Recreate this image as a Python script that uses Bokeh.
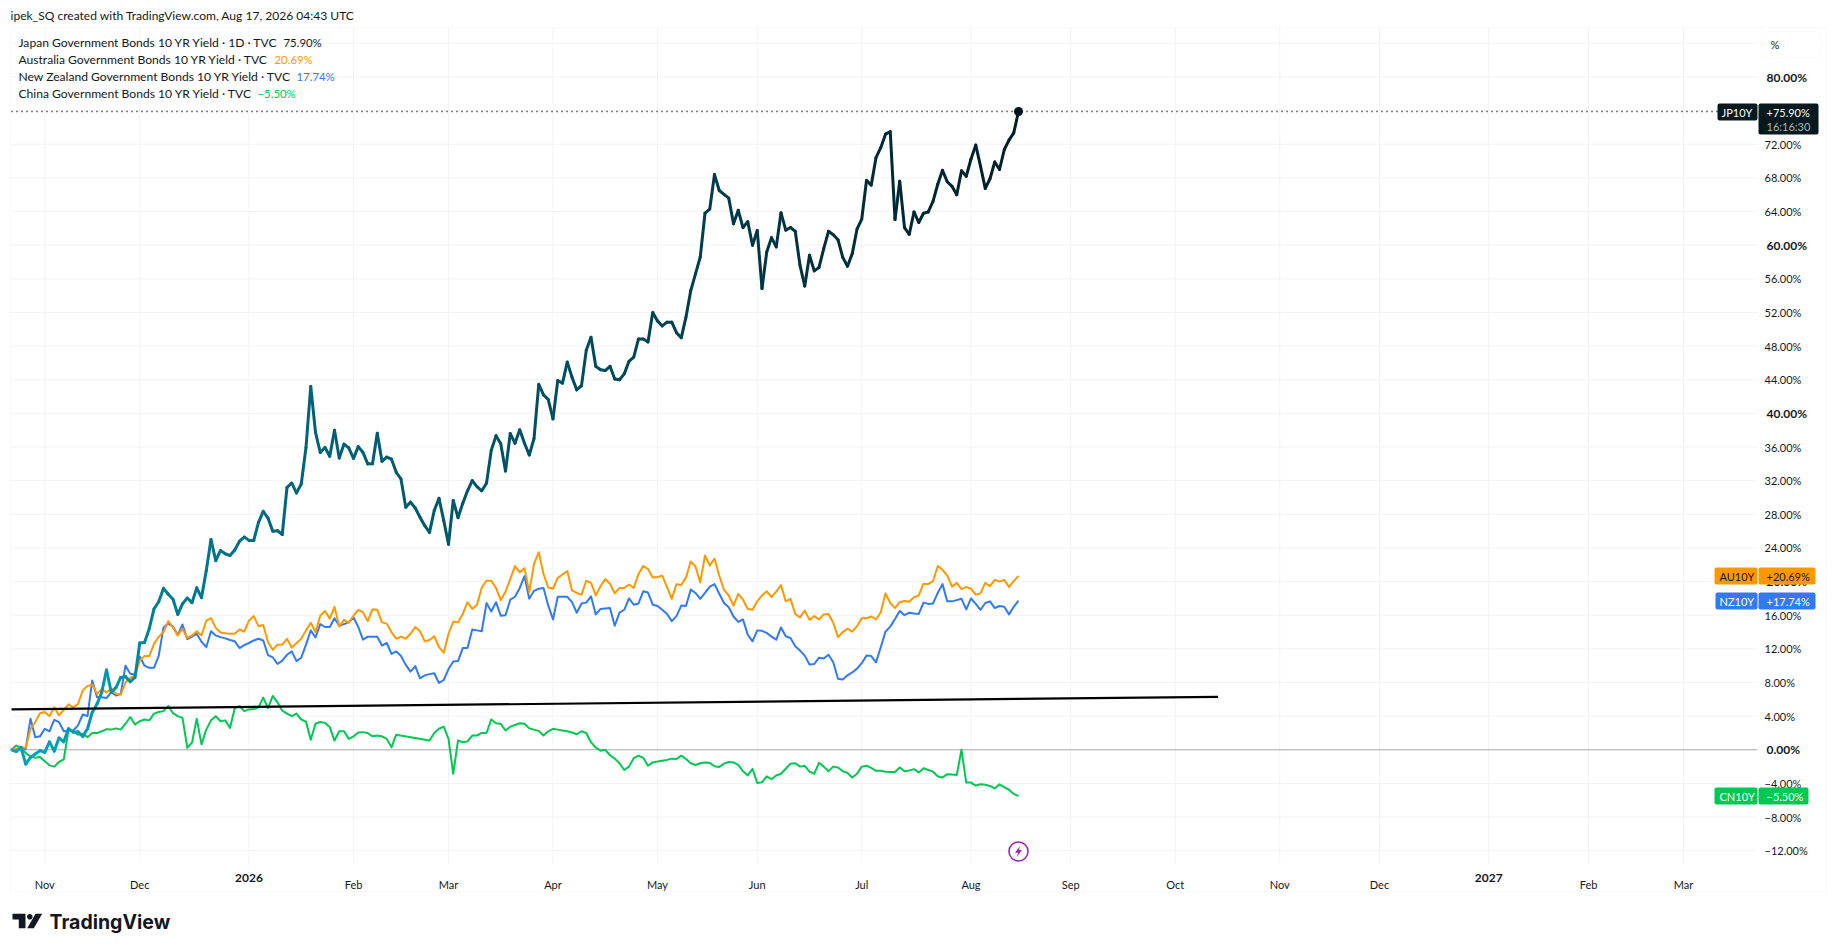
from bokeh.embed import file_html
from bokeh.resources import INLINE
from bokeh.plotting import figure
from bokeh.models import (Range1d, FixedTicker, Label, BoxAnnotation, PolyAnnotation)
import numpy as np

TITLE = "ipek_SQ created with TradingView.com, Aug 17, 2026 04:43 UTC"
JP = [0,-0.2,0.25,-1.7,-0.9,-0.5,-0.1,-0.3,0.95,-0.15,
1.4,0.95,2.5,2.1,2.15,1.6,2.5,4.45,5.45,6.85,
9.5,6.85,7.4,8.6,8.7,8.1,8.6,12.7,12.75,14.4,
16.75,17.6,19.2,18.5,17.9,16.1,17.35,18.05,17.5,19.25,
18.1,21.3,25.0,22.5,23.7,23.3,23.1,23.75,24.8,25.3,
24.9,24.9,27.05,28.35,27.55,26.0,26.05,25.6,31.2,31.7,
30.55,31.6,35.95,43.2,37.75,35.35,35.95,34.9,38.0,34.7,
36.35,35.9,34.65,36.05,35.35,34.0,34.0,37.65,34.3,34.8,
34.55,33,32.2,28.85,29.45,28.75,27.65,26.65,25.85,28.45,
29.9,27.25,24.45,29.65,27.6,29.3,30.8,32,31.3,30.8,
31.7,35.6,37.35,36.4,33.15,37.6,36.45,38.05,36.45,35.05,
37,43.45,42.2,41.65,39.35,43.9,43.6,46.1,44.3,42.8,
43.3,47.5,49.05,45.6,45.2,45.1,45.6,44.1,44,44.7,
46.2,46.7,48.85,48.85,48.5,52,51,50.4,50.85,50.85,
49.6,49,51.45,54.6,56.6,58.6,63.8,64.3,68.4,66.5,
66.05,65.6,62.55,64.15,62.1,62.8,60,61.75,54.85,59.2,
60.9,59.8,63.85,61.8,62.1,61.65,57.6,55.15,58.8,56.95,
57.35,59.6,61.65,61.25,60.65,58.55,57.5,59,61.9,63.1,
67.7,67.15,70.4,71.6,73.2,73.5,63.05,67.6,62.1,61.3,
63.95,62.7,63.8,63.95,65.2,67.25,68.9,67.55,67,66,
68.85,68.2,70.25,71.9,69.4,66.75,67.9,69.9,69,71.35,
72.5,73.35,75.9]
AU = [0,0.1,0.3,0.25,2.5,3.3,4.35,4.5,4,5.05,
4.1,4.75,5.4,5.05,5.45,7.05,7.6,7.75,6.65,7.25,
6.8,7.3,6.65,6.55,8,8.55,8.85,10.6,11.15,11.15,
12.6,13.45,14,15.3,14.55,13.6,14.4,13.3,13.6,14.1,
13.6,15.35,15.65,14.5,13.95,13.85,13.8,13.8,14.3,14.05,
15.35,15.9,14.7,14.85,12.8,11.9,12.5,12.5,13.2,12.15,
12.7,13.2,14.2,15.1,14,15.95,16.5,15.6,17,14.65,
15.45,15.1,15.95,16.65,16.35,15.3,16.7,16.65,15.15,15,
14,13.2,13.45,13.2,13.8,14.6,14.1,12.9,13.05,13.5,
12.2,11.55,13.8,15.25,15.15,16.15,17.55,16.75,17.25,19.3,
20.1,20.1,19.25,17.8,18.8,20.3,21.85,21.1,21.6,18.75,
22.1,23.5,20.9,19.3,19.15,20.45,20.85,21.25,18.95,18.65,
18.45,20.1,19.85,18.35,19.45,20.3,19.75,18.6,19.25,19.25,
19.65,19.25,20.9,21.85,21.5,20.5,20.55,20.7,19.35,17.95,
19.7,19.6,20.5,22.4,21.8,19.9,23.1,21.9,22.75,20.7,
19,18.35,17.15,18.55,17.85,16.75,16.65,17.65,18.35,18.85,
18.15,18.8,19.6,17.65,17.95,16.15,15.75,16.55,15.45,15.9,
15.5,16.1,16.15,15.1,13.4,14,14.4,14.05,14.7,15.65,
15.65,15.85,15.5,16.35,18.6,17.45,16.85,17.55,17.7,17.6,
18.15,18.35,19.75,19.7,20.05,21.85,21.4,20.7,19.4,19.85,
19.1,19.35,19.15,18.45,18.6,19.85,19.45,20.2,20,20.2,
19.35,20.05,20.69]
NZ = [0,-0.2,0.3,0.1,3.7,1.5,1.6,2.5,2.2,3.55,
3.3,2.2,2.3,2.3,2.9,4.2,4,8.25,6.25,6.25,
6.15,6.85,6.45,6.65,10,9.05,8.95,11.1,10,9.75,
9.75,11.2,14.55,15,14.65,13.65,14.9,13.15,13.45,13.8,
12.85,12.2,14.1,13.6,13.4,13.25,13.05,12.9,12.1,12.45,
12.7,13,13.2,13,11.25,11,10.2,10.6,11.3,11.7,
10.55,10.95,12.5,14.2,13.35,14.95,14.6,14.6,15.65,14.75,
14.95,15.15,15.75,14.6,13.1,13.45,13.45,13.45,12.4,12.7,
11.4,11.7,11.15,10.1,9.3,9.95,8.5,8.85,9,9.1,
7.95,8.3,9.6,10.5,10.55,12.1,12.1,14.3,14.2,14.1,
17.45,16.45,17.55,15.95,16,17.85,18.2,19.25,20.65,17.95,
18.9,19.15,19.25,17.15,15.5,18.2,18.2,18.2,17.55,16.3,
17.4,17.5,18.25,16.1,16.75,16.8,16.85,14.75,16.3,16.65,
18,17.25,17.4,18.85,18.7,17.25,17.1,16.65,16.15,15.3,
15.9,17.15,17.1,19.05,18.65,17.95,18.65,19.4,19.7,18.55,
17.45,16.95,15.85,15.2,15.5,13.7,12.9,14.2,14.15,13.9,
13.45,13.1,14.55,13.5,13.3,12.3,11.8,11.2,10.15,10.2,
10.95,10.85,11.3,10.4,8.45,8.35,8.85,9.2,9.65,10.3,
11.2,11.15,10.4,12.2,14.05,14.65,15.55,16.5,16,16.3,
16.2,16.15,17.5,17.35,17.4,18.65,19.7,17.65,17.65,17.8,
17.95,16.7,18,17.35,16.65,17.45,17.65,16.85,17.1,17,
16.1,17,17.74]
CN = [0,0.5,0.25,-0.4,-0.8,-0.95,-0.85,-1.35,-1.85,-2,
-1.45,-1.15,2.3,2.2,1.8,1.9,1.5,2,2,2.2,
2.45,2.4,2.55,2.4,3.1,3.9,3,3.4,3.6,3.5,
4.3,4.5,4.6,5.2,4.35,4,3.8,0.25,0.85,3.7,
0.65,2.4,3.5,4,3.4,3.5,2.6,4.95,5.2,4.6,
4.8,4.85,5.05,6.2,4.95,6.4,5.65,4.65,4.3,4,
4.3,3.6,3.35,1.2,3.1,3.3,3.2,2.7,1.1,2.2,
2.2,1.3,1.6,2.05,2.1,2,1.6,1.7,1.6,1.3,
0.3,1.8,None,None,None,None,None,None,1.1,2,
2.5,2.75,1.3,-2.85,1.1,0.9,1,1.7,1.7,2,
2,3.6,3.15,3.1,2.3,2.75,2.95,3.15,3.1,2.55,
2.4,2.25,1.7,2.2,2.5,2.4,2.3,2.2,2.05,1.85,
2.2,2,0.9,0.25,-0.1,0,-0.65,-1.05,-1.6,-2.4,
-2,-1,-0.7,-0.95,-1.9,-1.5,-1.4,-1.3,-1.2,-1.05,
-1.1,-0.7,-1.1,-1.6,-1.8,-1.6,-1.5,-1.55,-1.95,-2.05,
-1.65,-1.45,-1.5,-1.8,-2.55,-3.05,-2.25,-3.95,-3.85,-3.15,
-3.5,-3.05,-2.85,-2.25,-1.65,-1.6,-2,-1.9,-2.6,-2.85,
-1.55,-2,-2.55,-2,-2.1,-2.55,-2.75,-3.3,-2.85,-2,
-1.9,-2.15,-2.5,-2.5,-2.6,-2.65,-2.65,-2.1,-2.55,-2.45,
-2.3,-2.7,-2.2,-2.4,-2.6,-3.15,-3.3,-2.9,-2.95,-3,
0,-3.9,-3.9,-4.25,-4.1,-4.15,-4.3,-4.6,-4.1,-4.45,
-4.75,-5.25,-5.5]
TREND_X = [0, 254]
TREND_Y = [4.8, 6.3]
MONTH_BARS = [7,27,50,72,92,114,136,157,179,202,223,245,267,288,311,332,352]
MONTH_TEXT = ["Nov","Dec","2026","Feb","Mar","Apr","May","Jun","Jul","Aug","Sep","Oct","Nov","Dec","2027","Feb","Mar"]
PCT_TICKS = [84,80,76,72,68,64,60,56,52,48,44,40,36,32,28,24,20,16,12,8,4,0,-4,-8,-12]
LEGEND = [("Japan Government Bonds 10 YR Yield · 1D · TVC", "75.90%", "#131722", 283),
          ("Australia Government Bonds 10 YR Yield · TVC", "20.69%", "#FF9800", 274),
          ("New Zealand Government Bonds 10 YR Yield · TVC", "17.74%", "#3179F5", 296),
          ("China Government Bonds 10 YR Yield · TVC", "−5.50%", "#00C853", 257)]

FONT = "Lato"
INK = "#131722"
GRID = "#f2f3f5"
ORANGE, BLUE, GREEN = "#FF9800", "#3179F5", "#00C853"

# page pixel -> data helpers (chart pane spans page x 11..1757, y 27..863)
BAR_PX, PCT_PX = 4.75, 8.41
X = lambda px: (px - 11) / BAR_PX
Y = lambda py: (749.3 - py) / PCT_PX
CW, CH = 1827, 943

p = figure(width=CW, height=CH, output_backend="svg", toolbar_location=None,
           x_range=Range1d(X(0), X(CW)), y_range=Range1d(Y(CH), Y(0)),
           y_axis_location="right", min_border=0, outline_line_color=None,
           background_fill_color="white", border_fill_color="white")

BOLD_Y = {80, 60, 40, 20, 0}
def pct_text(v):
    return ("−" if v < 0 else "") + f"{abs(v):.2f}%"

ya = p.yaxis[0]
ya.ticker = FixedTicker(ticks=PCT_TICKS)
ya.major_label_overrides = {v: ("" if v in BOLD_Y or v in (84, 76) else pct_text(v)) for v in PCT_TICKS}
ya.fixed_location = X(1757)
xa = p.xaxis[0]
xa.ticker = FixedTicker(ticks=MONTH_BARS)
xa.major_label_overrides = {b: ("" if t.isdigit() else t) for b, t in zip(MONTH_BARS, MONTH_TEXT)}
xa.fixed_location = Y(863)
for a in (xa, ya):
    a.axis_line_color = None
    a.major_tick_line_color = None
    a.minor_tick_line_color = None
    a.major_label_text_font = FONT
    a.major_label_text_font_size = "11px"
    a.major_label_text_color = INK
ya.major_label_standoff = 1
xa.major_label_standoff = 8
p.xgrid.visible = False
p.ygrid.visible = False
# grid limited to the chart pane
p.segment(X(11), PCT_TICKS, X(1757), PCT_TICKS, line_color=GRID, line_width=1)
p.segment(MONTH_BARS, Y(27), MONTH_BARS, Y(863), line_color=GRID, line_width=1)

def label(text, px, py, color=INK, size=11, bold=False, align="left", font=FONT):
    p.add_layout(Label(x=X(px), y=Y(py), text=text, text_color=color, text_font=font,
                       text_font_size=f"{size}px", text_font_style="bold" if bold else "normal",
                       text_align=align, text_baseline="middle"))

def box(l, r, t, b, fill=None, line=None, width=1, radius=2):
    p.add_layout(BoxAnnotation(left=X(l), right=X(r), top=Y(t), bottom=Y(b),
                               fill_color=fill, fill_alpha=1 if fill else 0,
                               line_color=line, line_width=width, border_radius=radius,
                               level="annotation"))

def poly(pts, color):
    p.add_layout(PolyAnnotation(xs=[X(a) for a, _ in pts], ys=[Y(b) for _, b in pts],
                                fill_color=color, fill_alpha=1, line_color=None,
                                level="annotation", editable=False))

# outer border
box(10, 1826, 27, 891, line="#eff0f2", width=2, radius=0)

# zero line
p.segment(X(11), 0, X(1757), 0, line_color="#ababab", line_width=1)

bars = list(range(len(JP)))
cx = [b for b, v in zip(bars, CN) if v is not None]
cy = [v for v in CN if v is not None]
p.line(cx, cy, line_color=GREEN, line_width=2, line_join="round")
p.line(bars, NZ, line_color=BLUE, line_width=2, line_join="round")
p.line(bars, AU, line_color=ORANGE, line_width=2, line_join="round")

# JP line: colour fades along the series
stops_b = [0, 20, 30, 60, 120, 160, 212]
stops_c = [(0,163,191),(0,151,176),(0,127,151),(0,100,122),(0,77,92),(0,53,68),(0,31,40)]
seg_c = []
for i in bars[:-1]:
    rgb = [int(np.interp(i, stops_b, [c[k] for c in stops_c])) for k in range(3)]
    seg_c.append("#%02x%02x%02x" % tuple(rgb))
p.segment(bars[:-1], JP[:-1], bars[1:], JP[1:], line_color=seg_c, line_width=3, line_cap="round")
p.scatter([bars[-1]], [JP[-1]], size=9, marker="circle", fill_color="#04141a", line_color=None)

# last value dotted line, trend line
p.line([X(11), X(1717)], [JP[-1], JP[-1]], line_color="black", line_width=1.3, line_dash="1 4")
p.line(TREND_X, TREND_Y, line_color="black", line_width=2.2)

# lightning marker
p.scatter([X(1018)], [Y(851)], size=19, marker="circle", fill_color="white", line_color="#9C27B0", line_width=1.6)
p.patch([X(a) for a in (1019.5,1014.5,1017.6,1016.3,1021.5,1018.3)],
        [Y(b) for b in (845.5,852.2,852.2,856.5,849.6,849.6)], fill_color="#9C27B0", line_color=None)

# bold axis labels
for v in sorted(BOLD_Y):
    label(pct_text(v), 1766, 749.3 - v * PCT_PX, bold=True, size=12)
for b, t in zip(MONTH_BARS, MONTH_TEXT):
    if t.isdigit():
        label(t, 11 + b * BAR_PX, 877, bold=True, align="center", size=12)

# price tags
box(1761, 1821, 31, 57, fill="white", line="#eff0f2", radius=4)
label("%", 1770, 44)
TAGS = [("AU10Y", "+20.69%", 1714, 1815, 575.5, ORANGE, INK),
        ("NZ10Y", "+17.74%", 1715, 1815, 600.5, BLUE, "white"),
        ("CN10Y", "−5.50%", 1714, 1808, 795.5, GREEN, "white"),
        ("JP10Y", "+75.90%", 1717, 1818, 111.5, "#06191f", "white")]
for name, val, l, r, cy_, col, txt in TAGS:
    box(l, 1757, cy_ - 8.5, cy_ + 8.5, fill=col)
    if name == "JP10Y":
        box(1758, r, cy_ - 8.5, cy_ + 22.5, fill=col)
        label("16:16:30", 1766, 125.5, color="#b2b5b8")
    else:
        box(1758, r, cy_ - 8.5, cy_ + 8.5, fill=col)
    label(name, 1719 if l < 1716 else 1721, cy_, color=txt)
    label(val, 1766, cy_, color=txt)

# title and legend
label(TITLE, 10, 15, size=12.05)
for i, (txt, val, col, vx) in enumerate(LEGEND):
    py = 42 + i * 17
    label(txt, 18, py, size=12.1)
    label(val, vx, py, color=col, size=11.4)

# logo
poly([(12,913.3),(25,913.3),(25,927.7),(18.3,927.7),(18.3,919),(12,919)], "#131722")
poly([(29.3 + 2.8*np.cos(t), 916.3 + 2.8*np.sin(t)) for t in np.linspace(0, 2*np.pi, 16, endpoint=False)], "#131722")
poly([(35,913.3),(41.7,913.3),(33.3,927.7),(26.7,927.7)], "#131722")
label("TradingView", 49, 921.5, size=19.5, bold=True, font="Inter")

assert len(JP) == len(AU) == len(NZ) == len(CN) == 213, (len(JP), len(AU), len(NZ), len(CN))
open("out.html", "w").write(file_html(p, INLINE))
